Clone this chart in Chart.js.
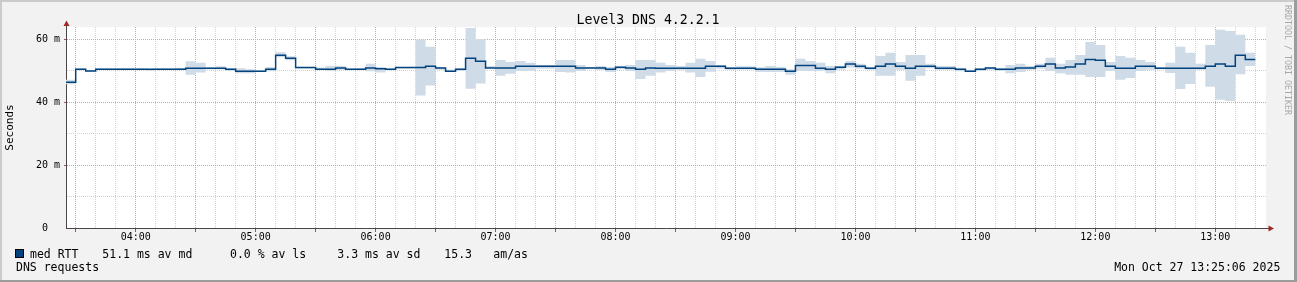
<!DOCTYPE html>
<html lang="en">
<head>
<meta charset="UTF-8">
<title>Level3 DNS 4.2.2.1</title>
<script src="https://cdn.jsdelivr.net/npm/chart.js@4"></script>
<style>
  html, body { margin: 0; padding: 0; background: #f2f2f2; }
  canvas { display: block; }
</style>
</head>
<body>
<canvas id="smoke" width="1297" height="282"></canvas>
<script>
// 5 minute steps, first one starts 03:25 (minutes after midnight)
const startMinute = 205;
const stepMinutes = 5;

// median RTT per step, ms
const medianRtt = [
  46.3, 50.5, 49.9, 50.5, 50.5, 50.5, 50.5, 50.5, 50.5, 50.5,
  50.5, 50.5, 50.8, 50.8, 50.8, 50.8, 50.5, 49.8, 49.8, 49.8,
  50.5, 54.9, 54.0, 51.0, 51.0, 50.5, 50.5, 50.9, 50.5, 50.5,
  50.9, 50.6, 50.5, 51.0, 51.0, 51.0, 51.4, 50.9, 49.8, 50.5,
  54.0, 53.0, 50.9, 50.9, 50.9, 51.4, 51.4, 51.4, 51.4, 51.4,
  51.4, 50.9, 50.9, 50.9, 50.5, 51.1, 50.9, 50.5, 50.9, 50.8,
  50.8, 50.8, 50.8, 50.8, 51.4, 51.4, 50.8, 50.8, 50.8, 50.5,
  50.5, 50.5, 49.8, 51.7, 51.7, 50.8, 50.5, 51.1, 52.1, 51.4,
  50.8, 51.4, 52.1, 51.4, 50.8, 51.4, 51.4, 50.8, 50.8, 50.5,
  49.8, 50.5, 50.9, 50.5, 50.5, 50.9, 50.9, 51.4, 52.1, 50.9,
  51.2, 52.1, 53.6, 53.3, 51.4, 50.8, 50.8, 51.4, 51.4, 50.8,
  50.8, 50.8, 50.8, 50.8, 51.4, 52.1, 51.4, 54.9, 53.6
];

// smoke band, upper and lower edge per step, ms
const smokeHigh = [
  47.1, 50.8, 50.1, 50.8, 50.7, 50.8, 50.7, 50.7, 50.6, 50.8,
  50.7, 50.9, 53.0, 52.5, 51.1, 51.4, 50.8, 50.8, 50.5, 50.0,
  51.2, 55.9, 54.6, 51.2, 51.2, 51.0, 51.5, 51.5, 50.7, 50.8,
  52.2, 51.2, 50.7, 51.2, 51.2, 59.9, 57.6, 51.2, 50.3, 50.7,
  63.6, 60.1, 51.5, 53.4, 52.8, 53.1, 52.5, 51.8, 51.8, 53.4,
  53.4, 51.8, 51.2, 51.5, 51.2, 51.4, 51.8, 53.4, 53.4, 52.5,
  51.8, 51.5, 52.5, 53.8, 53.1, 51.8, 51.2, 51.4, 51.4, 51.1,
  51.5, 51.2, 50.5, 53.8, 53.1, 52.5, 51.5, 51.5, 53.1, 52.2,
  51.2, 54.7, 55.7, 52.8, 55.0, 55.0, 52.2, 51.5, 51.5, 50.8,
  50.3, 50.8, 51.2, 50.8, 51.8, 52.2, 51.5, 52.2, 54.1, 52.2,
  53.4, 55.0, 59.1, 58.2, 52.8, 54.7, 54.1, 53.4, 52.8, 51.2,
  52.5, 57.6, 55.7, 52.2, 58.2, 63.0, 62.6, 61.4, 55.7
];
const smokeLow = [
  45.7, 50.2, 49.7, 50.2, 50.3, 50.3, 50.3, 50.3, 50.0, 50.3,
  50.3, 50.3, 48.7, 49.4, 50.5, 50.5, 50.0, 49.2, 49.2, 49.6,
  49.8, 54.3, 53.3, 50.7, 50.7, 50.3, 49.9, 50.3, 50.3, 50.3,
  49.8, 49.4, 50.3, 50.7, 50.7, 42.1, 45.3, 50.3, 49.6, 50.0,
  44.3, 45.9, 50.7, 48.4, 49.0, 49.9, 49.9, 50.6, 50.6, 49.6,
  49.4, 49.9, 50.6, 50.3, 49.6, 50.5, 49.9, 47.4, 48.4, 49.4,
  49.9, 50.3, 49.4, 48.0, 49.7, 50.6, 50.3, 50.4, 50.4, 49.6,
  49.6, 49.6, 48.7, 49.9, 49.9, 49.9, 49.2, 50.3, 51.0, 50.6,
  50.3, 48.4, 48.4, 50.3, 46.8, 48.4, 50.8, 50.3, 50.3, 49.8,
  49.6, 50.0, 50.3, 50.0, 49.2, 49.6, 50.3, 50.6, 49.9, 49.2,
  48.7, 48.7, 48.0, 48.0, 49.9, 47.1, 47.7, 49.9, 50.3, 50.5,
  49.3, 44.2, 45.8, 50.3, 44.9, 40.8, 40.4, 48.9, 51.5
];

const hourLabels = ['04:00', '05:00', '06:00', '07:00', '08:00', '09:00', '10:00', '11:00', '12:00', '13:00'];
const yLabels = ['0  ', '20 m', '40 m', '60 m'];

const mono = "'DejaVu Sans Mono', monospace";
const medColor = '#00437f';
const gridGray = '#d2d2d2';
const gridRed = '#e99a9a';
const tickRed = '#a05050';
const axisColor = '#4b4545';
const arrowColor = '#a02828';

// stepped 'before': each value holds until the next point, so close with one more point
function steps(values) {
  const pts = values.map((v, i) => ({x: startMinute + i * stepMinutes, y: v}));
  pts.push({x: startMinute + values.length * stepMinutes, y: values[values.length - 1]});
  return pts;
}

const rrdDecor = {
  id: 'rrdDecor',
  beforeDraw(chart) {
    const {ctx, chartArea: a, width, height} = chart;
    ctx.save();
    ctx.fillStyle = '#f2f2f2';
    ctx.fillRect(0, 0, width, height);
    ctx.fillStyle = '#ffffff';
    ctx.fillRect(a.left, a.top, a.right - a.left, a.bottom - a.top);
    ctx.restore();
  },
  // dotted rrdtool grid, one pixel on / one off, at the scales' own ticks
  beforeDatasetsDraw(chart) {
    const {ctx, chartArea: a, scales: {x, y}} = chart;
    ctx.save();
    x.ticks.forEach(t => {
      const px = Math.floor(x.getPixelForValue(t.value));
      const major = Math.round(t.value) % 30 === 0;
      ctx.fillStyle = major ? gridRed : gridGray;
      for (let py = Math.ceil(a.top); py < a.bottom; py += 2) ctx.fillRect(px, py, 1, 1);
      if (major) {
        ctx.fillStyle = tickRed;
        ctx.fillRect(px, a.bottom + 1, 1, 3);
      }
    });
    y.ticks.forEach(t => {
      if (t.value === 0) return;
      const py = Math.floor(y.getPixelForValue(t.value));
      const major = Math.round(t.value) % 20 === 0;
      ctx.fillStyle = major ? gridRed : gridGray;
      for (let px = a.left + 1; px < a.right; px += 2) ctx.fillRect(px, py, 1, 1);
      if (major) {
        ctx.fillStyle = tickRed;
        ctx.fillRect(a.left - 2, py, 2, 1);
      }
    });
    ctx.restore();
  },
  afterDraw(chart) {
    const {ctx, chartArea: a, width, height} = chart;
    ctx.save();

    // axis arrows
    ctx.strokeStyle = axisColor;
    ctx.lineWidth = 1;
    ctx.beginPath();
    ctx.moveTo(a.left + 0.5, a.top);
    ctx.lineTo(a.left + 0.5, a.top - 3);
    ctx.moveTo(a.right, a.bottom + 0.5);
    ctx.lineTo(a.right + 3, a.bottom + 0.5);
    ctx.stroke();
    ctx.fillStyle = arrowColor;
    ctx.beginPath();
    ctx.moveTo(a.left + 0.5, a.top - 6.5);
    ctx.lineTo(a.left - 2.5, a.top - 1);
    ctx.lineTo(a.left + 3.5, a.top - 1);
    ctx.closePath();
    ctx.fill();
    ctx.beginPath();
    ctx.moveTo(a.right + 8, a.bottom + 0.5);
    ctx.lineTo(a.right + 2.5, a.bottom - 2.5);
    ctx.lineTo(a.right + 2.5, a.bottom + 3.5);
    ctx.closePath();
    ctx.fill();

    // title
    ctx.fillStyle = '#000';
    ctx.textBaseline = 'alphabetic';
    ctx.textAlign = 'center';
    ctx.font = '13.2px ' + mono;
    ctx.fillText('Level3 DNS 4.2.2.1', 648, 24.3);

    // legend
    ctx.fillStyle = medColor;
    ctx.fillRect(15, 249, 9, 9);
    ctx.strokeStyle = '#000';
    ctx.strokeRect(15.5, 249.5, 8, 8);
    ctx.fillStyle = '#000';
    ctx.textAlign = 'left';
    ctx.font = '11.5px ' + mono;
    [['med RTT', 30], ['51.1 ms av md', 102.3], ['0.0 % av ls', 230],
     ['3.3 ms av sd', 337.3], ['15.3', 444.3], ['am/as', 493.3]]
      .forEach(([t, x]) => ctx.fillText(t, x, 258.3));
    ctx.fillText('DNS requests', 16, 271.3);
    ctx.textAlign = 'right';
    ctx.fillText('Mon Oct 27 13:25:06 2025', 1280.3, 271.3);

    // credit on the right edge
    ctx.save();
    ctx.translate(1287, 5);
    ctx.rotate(Math.PI / 2);
    ctx.textAlign = 'left';
    ctx.textBaseline = 'middle';
    ctx.font = '8.3px ' + mono;
    ctx.fillStyle = '#a8a8a8';
    ctx.fillText('RRDTOOL / TOBI OETIKER', 0, 0);
    ctx.restore();

    // frame
    ctx.fillStyle = '#cbcbcb';
    ctx.fillRect(0, 0, width, 2);
    ctx.fillRect(0, 0, 2, height);
    ctx.fillStyle = '#9c9c9c';
    ctx.fillRect(0, height - 2, width, 2);
    ctx.fillRect(width - 3, 0, 3, height);
    ctx.restore();
  }
};

new Chart(document.getElementById('smoke'), {
  type: 'line',
  data: {
    datasets: [{
      label: 'smoke low',
      data: steps(smokeLow),
      stepped: 'before',
      borderWidth: 0,
      borderColor: 'rgba(0,0,0,0)',
      pointRadius: 0,
      fill: false,
      clip: 0,
      order: 2
    }, {
      label: 'smoke high',
      data: steps(smokeHigh),
      stepped: 'before',
      borderWidth: 0,
      borderColor: 'rgba(0,0,0,0)',
      backgroundColor: '#cfdbe6',
      pointRadius: 0,
      fill: '-1',
      clip: 0,
      order: 1
    }, {
      label: 'med RTT',
      data: steps(medianRtt),
      stepped: 'before',
      borderColor: medColor,
      borderWidth: 1.5,
      pointRadius: 0,
      fill: false,
      clip: 0,
      order: 0
    }]
  },
  options: {
    responsive: false,
    animation: false,
    events: [],
    layout: { padding: { left: 0, right: 31, top: 27, bottom: 34 } },
    plugins: {
      legend: { display: false },
      title: { display: false },
      tooltip: { enabled: false }
    },
    scales: {
      x: {
        type: 'linear',
        min: 205.15,
        max: 805.35,
        afterFit: s => { s.height = 20; },
        ticks: {
          stepSize: 10,
          autoSkip: false,
          maxRotation: 0,
          minRotation: 0,
          includeBounds: false,
          padding: 3.5,
          color: '#000',
          font: { family: mono, size: 10 },
          callback: v => (v % 60 === 0 ? hourLabels[v / 60 - 4] : '')
        },
        grid: { display: false, drawTicks: false },
        border: { display: true, color: axisColor, width: 1 }
      },
      y: {
        min: 0,
        max: 63.9,
        afterFit: s => { s.width = 66; },
        title: {
          display: true,
          text: 'Seconds',
          color: '#000',
          font: { family: mono, size: 11 },
          padding: { top: 4, bottom: 0 }
        },
        ticks: {
          stepSize: 10,
          includeBounds: false,
          padding: 6,
          color: '#000',
          font: { family: mono, size: 10 },
          callback: v => (v % 20 === 0 ? yLabels[v / 20] : '')
        },
        grid: { display: false, drawTicks: false },
        border: { display: true, color: axisColor, width: 1 }
      }
    }
  },
  plugins: [rrdDecor]
});
</script>
</body>
</html>
